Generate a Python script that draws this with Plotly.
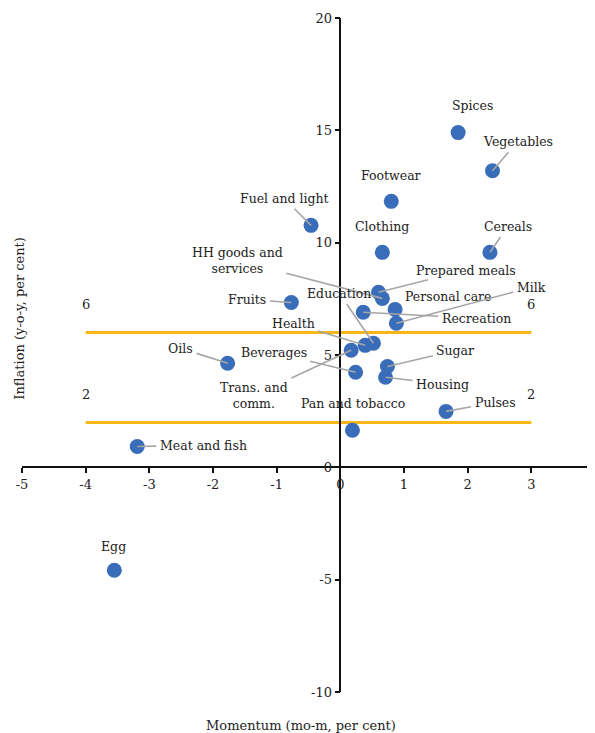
"""Inflation vs momentum scatter of CPI sub-groups."""

import plotly.graph_objects as go

# ---- data -----------------------------------------------------------------
categories = [
    "Spices", "Vegetables", "Footwear", "Fuel and light", "Clothing", "Cereals",
    "Prepared meals", "HH goods and services", "Fruits", "Personal care",
    "Recreation", "Milk", "Education", "Health", "Trans. and comm.", "Oils",
    "Beverages", "Sugar", "Housing", "Pulses", "Pan and tobacco",
    "Meat and fish", "Egg",
]
momentum = [
    1.85, 2.39, 0.80, -0.46, 0.66, 2.35,
    0.60, 0.66, -0.77, 0.86,
    0.36, 0.88, 0.52, 0.39, 0.17, -1.77,
    0.24, 0.74, 0.71, 1.66, 0.19,
    -3.19, -3.55,
]
inflation = [
    14.9, 13.2, 11.84, 10.77, 9.57, 9.57,
    7.79, 7.52, 7.34, 7.03,
    6.90, 6.41, 5.52, 5.43, 5.21, 4.63,
    4.23, 4.49, 4.01, 2.49, 1.65,
    0.93, -4.58,
]

band_x = [-4, 3]
band_upper = 6
band_lower = 2

x_ticks = [-5, -4, -3, -2, -1, 0, 1, 2, 3, 4]
y_ticks = [-10, -5, 0, 5, 10, 15, 20]

# ---- label placement (pixel offsets of label centre from its point) --------
# (dx, dy, leader line?) ; dy positive = downwards
label_offsets = {
    "Spices": (14, -27, False),
    "Vegetables": (25, -29, True),
    "Footwear": (0, -26, False),
    "Fuel and light": (-27, -27, True),
    "Clothing": (0, -26, False),
    "Cereals": (18, -26, True),
    "Prepared meals": (87, -22, True),
    "HH goods and services": (-145, -38, True),
    "Fruits": (-44, -3, True),
    "Personal care": (53, -13, False),
    "Recreation": (113, 6, True),
    "Milk": (135, -36, True),
    "Education": (-34, -50, True),
    "Health": (-72, -22, True),
    "Trans. and comm.": (-97, 45, True),
    "Oils": (-47, -15, True),
    "Beverages": (-82, -20, True),
    "Sugar": (68, -16, True),
    "Housing": (57, 7, True),
    "Pulses": (49, -9, True),
    "Pan and tobacco": (1, -27, False),
    "Meat and fish": (66, -1, True),
    "Egg": (-1, -24, False),
}
wrapped = {
    "HH goods and services": "HH goods and<br>services",
    "Trans. and comm.": "Trans. and<br>comm.",
}

FONT = "DejaVu Serif"
BLUE = "#3A6DB9"
GOLD = "#F8B618"
GREY = "#A6A6A6"

fig = go.Figure()

for level in (band_upper, band_lower):
    fig.add_trace(go.Scatter(
        x=band_x, y=[level] * len(band_x), mode="lines",
        line=dict(color=GOLD, width=3), hoverinfo="skip",
    ))
    for bx in band_x:
        fig.add_annotation(x=bx, y=level, text=str(level), showarrow=False,
                           yshift=28, font=dict(family=FONT, size=13, color="#222"))

fig.add_trace(go.Scatter(
    x=momentum, y=inflation, mode="markers", text=categories,
    marker=dict(color=BLUE, size=15),
))

for name, mx, iy in zip(categories, momentum, inflation):
    dx, dy, leader = label_offsets[name]
    text = wrapped.get(name, name)
    common = dict(x=mx, y=iy, text=text,
                  font=dict(family=FONT, size=12.5, color="#222"))
    if leader:
        fig.add_annotation(**common, showarrow=True, ax=dx, ay=dy,
                           arrowhead=0, arrowwidth=1.6, arrowcolor=GREY,
                           standoff=0, startstandoff=2)
    else:
        fig.add_annotation(**common, showarrow=False, xshift=dx, yshift=-dy)

# axis titles
fig.add_annotation(x=0.487, y=-0.049, xref="paper", yref="paper",
                   xanchor="center", yanchor="middle",
                   text="Momentum (mo-m, per cent)", showarrow=False,
                   font=dict(family=FONT, size=13, color="#222"))
fig.add_annotation(x=-0.004, y=0.555, xref="paper", yref="paper",
                   xanchor="center", yanchor="middle",
                   text="Inflation (y-o-y, per cent)", showarrow=False,
                   textangle=-90,
                   font=dict(family=FONT, size=13, color="#222"))

axis_common = dict(
    showgrid=False, zeroline=False, showline=True, linecolor="#111",
    linewidth=1.5, ticks="outside", ticklen=5, tickwidth=1.5,
    tickcolor="#111", tickfont=dict(family=FONT, size=13, color="#222"),
    anchor="free", automargin=False,
)
fig.update_xaxes(range=[-5, 4], tickvals=x_ticks,
                 ticktext=[str(t) for t in x_ticks], position=1 / 3, **axis_common)
fig.update_yaxes(range=[-10, 20], tickvals=y_ticks,
                 ticktext=[str(t) for t in y_ticks], position=5 / 9, **axis_common)

# page body adds an 8px offset, so margins are shifted to compensate
fig.update_layout(
    width=595, height=733,
    margin=dict(l=14, r=8, t=10, b=49, autoexpand=False),
    plot_bgcolor="white", paper_bgcolor="white",
    showlegend=False,
)

fig.write_html("out.html")
